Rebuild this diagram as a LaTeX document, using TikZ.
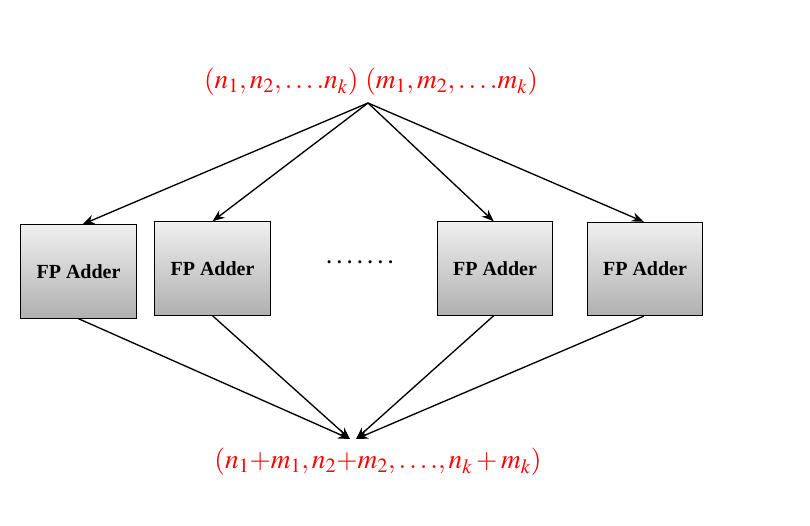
\documentclass[tikz,border=0pt]{standalone}
\usepackage{mathptmx}
\usepackage{fontspec}
\setmainfont{Liberation Serif}
\usetikzlibrary{arrows.meta}
\newcommand{\dotgap}{\hspace{4.2pt}}
\begin{document}
\begin{tikzpicture}[x=0.75pt,y=-0.75pt,
  adder/.style={draw=black, line width=0.8pt, minimum width=86.5pt, minimum height=70pt,
    top color=gray!12, bottom color=gray!62, inner sep=0pt,
    font=\fontsize{15}{17}\selectfont\bfseries},
  conn/.style={line width=1pt, -{Stealth[length=9pt,width=7pt]}},
  lbl/.style={text=red, inner sep=0pt, font=\fontsize{20.5}{24}\selectfont}]
\useasboundingbox (0,0) rectangle (810,525);
\node[adder] (a1) at (78.5,271.5) {FP Adder};
\node[adder] (a2) at (212.5,268.5) {FP Adder};
\node[adder] (a3) at (495,268.5) {FP Adder};
\node[adder] (a4) at (645,269) {FP Adder};
\node[inner sep=0pt, font=\fontsize{14}{16}\selectfont\bfseries] (dots) at (360,262)
  {.\dotgap.\dotgap.\dotgap.\dotgap.\dotgap.\dotgap.};
\node[lbl] (top) at (371,82) {$(n_1,n_2,\ldots.n_k)\ (m_1,m_2,\ldots.m_k)$};
\node[lbl] (bot) at (378,462) {$(n_1{+}m_1,n_2{+}m_2,\ldots.,n_k+m_k)$};
\coordinate (src) at (368,103);
\coordinate (sinkL) at (350,439);
\coordinate (sinkR) at (356,439);
\draw[conn] (src) -- ([xshift=3pt]a1.north);
\draw[conn] (src) -- (a2.north);
\draw[conn] (src) -- ([xshift=-1pt]a3.north);
\draw[conn] (src) -- ([xshift=-1pt]a4.north);
\draw[conn] (a1.south) -- (sinkL);
\draw[conn] (a2.south) -- (sinkL);
\draw[conn] ([xshift=-1pt]a3.south) -- (sinkR);
\draw[conn] ([xshift=-1pt]a4.south) -- (sinkR);
\end{tikzpicture}
\end{document}
